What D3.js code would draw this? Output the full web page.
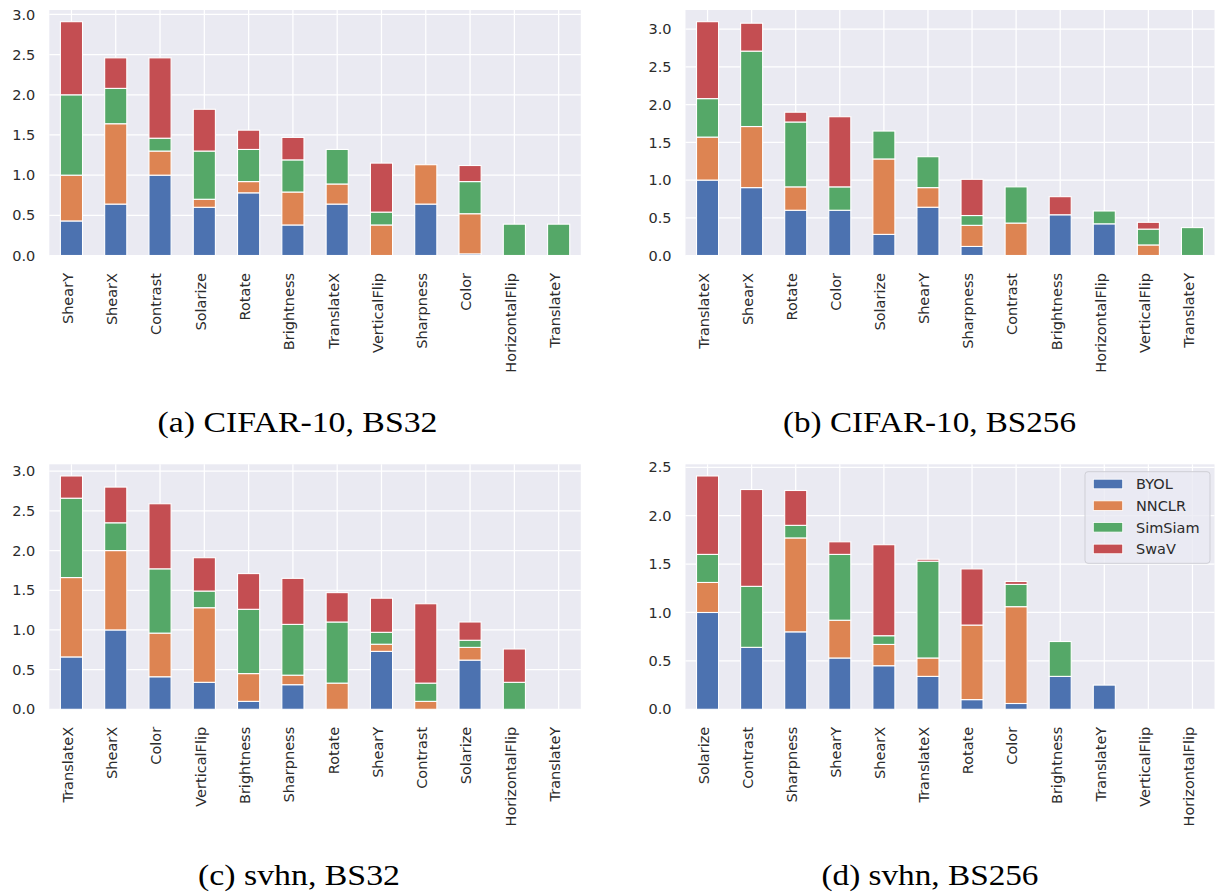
<!DOCTYPE html>
<html>
<head>
<meta charset="utf-8">
<script src="https://cdn.jsdelivr.net/npm/d3@7"></script>
<style>
  body { margin: 0; background: #fff; }
  svg { display: block; }
</style>
</head>
<body>
<svg id="fig" width="1221" height="895"></svg>
<script>
// Methods (stack order, bottom to top) and their colours
const methods = ["BYOL", "NNCLR", "SimSiam", "SwaV"];
const methodColors = ["#4C72B0", "#DD8452", "#55A868", "#C44E52"];

// (a) CIFAR-10, BS32
const augA = ["ShearY", "ShearX", "Contrast", "Solarize", "Rotate", "Brightness", "TranslateX", "VerticalFlip", "Sharpness", "Color", "HorizontalFlip", "TranslateY"];
const byolA    = [0.43, 0.64, 1.00, 0.60, 0.78, 0.38, 0.64, 0.00, 0.64, 0.02, 0.00, 0.00];
const nnclrA   = [0.57, 1.00, 0.30, 0.10, 0.14, 0.41, 0.25, 0.38, 0.49, 0.50, 0.00, 0.00];
const simsiamA = [1.00, 0.44, 0.16, 0.60, 0.40, 0.40, 0.43, 0.16, 0.00, 0.40, 0.39, 0.39];
const swavA    = [0.91, 0.38, 1.00, 0.52, 0.24, 0.28, 0.00, 0.61, 0.00, 0.20, 0.00, 0.00];

// (b) CIFAR-10, BS256
const augB = ["TranslateX", "ShearX", "Rotate", "Color", "Solarize", "ShearY", "Sharpness", "Contrast", "Brightness", "HorizontalFlip", "VerticalFlip", "TranslateY"];
const byolB    = [1.00, 0.90, 0.60, 0.60, 0.28, 0.64, 0.12, 0.00, 0.54, 0.42, 0.00, 0.00];
const nnclrB   = [0.57, 0.81, 0.31, 0.00, 1.00, 0.26, 0.28, 0.43, 0.00, 0.00, 0.14, 0.00];
const simsiamB = [0.51, 1.00, 0.86, 0.31, 0.37, 0.41, 0.13, 0.48, 0.00, 0.17, 0.21, 0.37];
const swavB    = [1.02, 0.37, 0.13, 0.93, 0.00, 0.00, 0.48, 0.00, 0.24, 0.00, 0.09, 0.00];

// (c) svhn, BS32
const augC = ["TranslateX", "ShearX", "Color", "VerticalFlip", "Brightness", "Sharpness", "Rotate", "ShearY", "Contrast", "Solarize", "HorizontalFlip", "TranslateY"];
const byolC    = [0.66, 1.00, 0.41, 0.34, 0.10, 0.31, 0.00, 0.73, 0.00, 0.62, 0.00, 0.00];
const nnclrC   = [1.00, 1.00, 0.55, 0.94, 0.35, 0.12, 0.33, 0.09, 0.10, 0.16, 0.00, 0.00];
const simsiamC = [1.00, 0.35, 0.81, 0.21, 0.81, 0.64, 0.77, 0.15, 0.23, 0.09, 0.34, 0.00];
const swavC    = [0.28, 0.45, 0.82, 0.42, 0.45, 0.58, 0.37, 0.43, 1.00, 0.23, 0.42, 0.00];

// (d) svhn, BS256
const augD = ["Solarize", "Contrast", "Sharpness", "ShearY", "ShearX", "TranslateX", "Rotate", "Color", "Brightness", "TranslateY", "VerticalFlip", "HorizontalFlip"];
const byolD    = [1.00, 0.64, 0.80, 0.53, 0.45, 0.34, 0.10, 0.06, 0.34, 0.25, 0.00, 0.00];
const nnclrD   = [0.31, 0.00, 0.97, 0.39, 0.22, 0.19, 0.77, 1.00, 0.00, 0.00, 0.00, 0.00];
const simsiamD = [0.29, 0.63, 0.13, 0.68, 0.09, 1.00, 0.00, 0.23, 0.36, 0.00, 0.00, 0.00];
const swavD    = [0.81, 1.00, 0.36, 0.13, 0.94, 0.02, 0.58, 0.03, 0.00, 0.00, 0.00, 0.00];

// Y tick values per panel
const ticksTo30 = [0, 0.5, 1.0, 1.5, 2.0, 2.5, 3.0];
const ticksTo25 = [0, 0.5, 1.0, 1.5, 2.0, 2.5];

// Sub-figure captions
const captions = ["(a) CIFAR-10, BS32", "(b) CIFAR-10, BS256", "(c) svhn, BS32", "(d) svhn, BS256"];

// Panel layout
const panels = [
  { aug: augA, series: [byolA, nnclrA, simsiamA, swavA], ticks: ticksTo30, caption: captions[0],
    box: { x0: 49.3, x1: 580.8, y0: 10, y1: 255.5 }, cap: { x: 297.5, y: 432, w: 280 } },
  { aug: augB, series: [byolB, nnclrB, simsiamB, swavB], ticks: ticksTo30, caption: captions[1],
    box: { x0: 685.5, x1: 1214.5, y0: 10, y1: 255.5 }, cap: { x: 929.5, y: 432, w: 293 } },
  { aug: augC, series: [byolC, nnclrC, simsiamC, swavC], ticks: ticksTo30, caption: captions[2],
    box: { x0: 49.3, x1: 580.8, y0: 464.3, y1: 709.3 }, cap: { x: 299, y: 885, w: 202 } },
  { aug: augD, series: [byolD, nnclrD, simsiamD, swavD], ticks: ticksTo25, caption: captions[3],
    box: { x0: 685.5, x1: 1214.5, y0: 464.3, y1: 709.3 }, cap: { x: 930, y: 885, w: 217 }, legend: true }
];

const svg = d3.select("#fig");
const tickFont = "'DejaVu Sans', sans-serif";
const tickSize = 14.5;
const textColor = "#2b2b2b";

panels.forEach(p => {
  const b = p.box;
  const rows = p.aug.map((a, i) => {
    const r = { aug: a };
    methods.forEach((m, k) => r[m] = p.series[k][i]);
    return r;
  });
  const stacked = d3.stack().keys(methods)(rows);
  const maxTotal = d3.max(rows, r => d3.sum(methods, m => r[m]));

  const x = d3.scaleBand().domain(p.aug).range([b.x0, b.x1]).paddingInner(0.5).paddingOuter(0.25);
  const y = d3.scaleLinear().domain([0, maxTotal * 1.05]).range([b.y1, b.y0]);

  const g = svg.append("g");

  // plot background
  g.append("rect")
    .attr("x", b.x0).attr("y", b.y0)
    .attr("width", b.x1 - b.x0).attr("height", b.y1 - b.y0)
    .attr("fill", "#EAEAF2");

  // grid lines
  g.append("g").selectAll("line.h").data(p.ticks).join("line")
    .attr("x1", b.x0).attr("x2", b.x1)
    .attr("y1", d => y(d)).attr("y2", d => y(d))
    .attr("stroke", "#fff").attr("stroke-width", 1.25);
  g.append("g").selectAll("line.v").data(p.aug).join("line")
    .attr("x1", d => x(d) + x.bandwidth() / 2).attr("x2", d => x(d) + x.bandwidth() / 2)
    .attr("y1", b.y0).attr("y2", b.y1)
    .attr("stroke", "#fff").attr("stroke-width", 1.25);

  // stacked bars
  stacked.forEach((layer, k) => {
    g.append("g").selectAll("rect")
      .data(layer.filter(d => d[1] - d[0] > 0))
      .join("rect")
      .attr("x", d => x(d.data.aug))
      .attr("width", x.bandwidth())
      .attr("y", d => y(d[1]))
      .attr("height", d => y(d[0]) - y(d[1]))
      .attr("fill", methodColors[k])
      .attr("stroke", "#fff")
      .attr("stroke-width", 1.1);
  });

  // y axis tick labels
  const yAxis = d3.axisLeft(y).tickValues(p.ticks).tickFormat(d3.format(".1f")).tickSize(0).tickPadding(14);
  const ya = g.append("g").attr("transform", `translate(${b.x0},0)`).call(yAxis);
  ya.select(".domain").remove();
  ya.selectAll("text")
    .attr("font-family", tickFont).attr("font-size", tickSize)
    .attr("fill", textColor);

  // x axis labels, rotated
  g.append("g").selectAll("text").data(p.aug).join("text")
    .attr("transform", d => `translate(${x(d) + x.bandwidth() / 2},${b.y1 + 17.5}) rotate(-90)`)
    .attr("text-anchor", "end")
    .attr("dy", "0.09em")
    .attr("font-family", tickFont).attr("font-size", tickSize)
    .attr("fill", textColor)
    .text(d => d);

  // caption
  g.append("text")
    .attr("x", p.cap.x).attr("y", p.cap.y)
    .attr("text-anchor", "middle")
    .attr("font-family", "'Liberation Serif', 'Times New Roman', serif")
    .attr("font-size", 29.5)
    .attr("fill", "#000")
    .attr("textLength", p.cap.w)
    .attr("lengthAdjust", "spacingAndGlyphs")
    .text(p.caption);

  // legend
  if (p.legend) {
    const lg = g.append("g");
    lg.append("rect")
      .attr("x", 1085).attr("y", 471.7).attr("width", 125).attr("height", 91.6)
      .attr("rx", 3).attr("fill", "#EAEAF2").attr("fill-opacity", 0.8)
      .attr("stroke", "#cfcfd6").attr("stroke-width", 1);
    methods.forEach((m, k) => {
      const cy = 484 + k * 21.65;
      lg.append("rect")
        .attr("x", 1093.3).attr("y", cy - 4.8).attr("width", 29.4).attr("height", 9.6)
        .attr("fill", methodColors[k]).attr("stroke", "#fff").attr("stroke-width", 0.8);
      lg.append("text")
        .attr("x", 1136).attr("y", cy).attr("dy", "0.36em")
        .attr("font-family", tickFont).attr("font-size", tickSize)
        .attr("fill", textColor)
        .text(m);
    });
  }
});
</script>
</body>
</html>
